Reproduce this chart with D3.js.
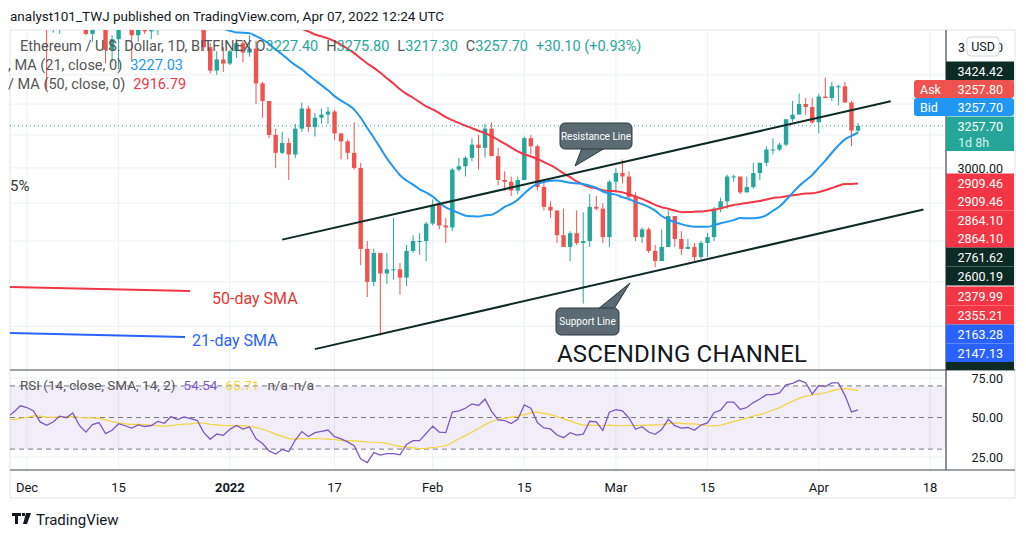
<!DOCTYPE html>
<html><head><meta charset="utf-8">
<script src="https://cdn.jsdelivr.net/npm/d3@7"></script>
<style>body{margin:0;background:#fff}svg{display:block;font-family:Roboto,"Open Sans",sans-serif}</style>
</head><body><svg id="c" width="1026" height="539"></svg>
<script>
// ---- data ----
const startDate = "2021-11-01";
const closes = [4320,4590,4600,4530,4480,4520,4610,4810,4730,4630,4720,4660,4650,4620,4570,4210,4290,3990,4300,4430,4270,4090,4340,4270,4520,4040,4100,4290,4440,4630,
4590,4510,4220,4120,4200,4350,4310,4430,4110,3900,4080,4130,3780,3860,4020,3960,3890,3960,3920,3940,4020,3980,4110,4050,4100,4070,4040,3800,3630,3710,3680,
3770,3830,3760,3790,3540,3420,3200,3090,3150,3080,3240,3370,3250,3310,3330,3350,3210,3160,3090,3000,2560,2400,2540,2440,2460,2460,2420,2550,2600,2600,2690,
2790,2680,2670,2990,3010,3060,3140,3120,3240,3070,2930,2920,2870,2930,3180,3130,2890,2780,2760,2630,2570,2640,2590,2600,2780,2770,2620,2920,
2970,2950,2835,2620,2660,2550,2500,2570,2730,2610,2560,2570,2520,2590,2620,2770,2810,2950,2950,2860,2890,2970,3030,3110,3110,3140,3300,3330,3400,3380,3280,
3450,3440,3520,3520,3410,3227.4,3257.7];
const candleStart = 28;
const highs = [4460,4770,
4780,4610,4650,4240,4250,4360,4420,4450,4460,4240,4090,4160,4130,3890,4090,4110,3990,3990,4040,3960,4040,4040,4140,4140,4120,4120,4130,4040,3830,3770,3800,
3780,3860,3850,3890,3850,3550,3420,3240,3220,3180,3270,3410,3390,3340,3370,3380,3360,3210,3170,3280,3030,2600,2560,2470,2540,2720,2490,2580,2630,2640,2700,
2820,2800,2720,3000,3060,3070,3180,3200,3270,3280,3120,2980,2950,2950,3190,3200,3140,2920,2810,2760,2770,2650,2760,2750,2850,2840,2800,2930,
3000,3050,2980,2860,2670,2670,2580,2660,2760,2730,2650,2610,2590,2600,2640,2780,2830,2960,2960,2940,2950,3030,3030,3130,3180,3150,3300,3420,3470,3440,3440,
3470,3580,3550,3530,3550,3420,3275.8];
const lows = [4280,4380,
4530,4430,4140,3500,3910,3900,4270,4200,4100,3890,3840,4020,3680,3690,3640,3960,3700,3840,3900,3860,3890,3960,3950,4030,4020,4010,4020,3770,3610,3600,3620,
3670,3720,3690,3730,3400,3310,3180,3000,3080,2930,3060,3220,3220,3190,3270,3270,3170,3050,3050,2990,2480,2330,2380,2160,2390,2410,2340,2380,2540,2530,2500,
2680,2660,2590,2650,2980,2950,3040,2990,3060,3070,2900,2870,2840,2850,2930,3080,2870,2760,2720,2590,2570,2500,2580,2300,2570,2760,2590,2570,
2860,2910,2810,2600,2590,2540,2470,2520,2570,2570,2530,2560,2500,2510,2520,2600,2750,2770,2920,2850,2860,2880,2930,3010,3080,3100,3130,3280,3340,3330,3270,
3210,3440,3420,3390,3410,3130,3217.3];
const xTicks = [["2021-12-01","Dec"],["2021-12-15","15"],["2022-01-01","2022"],["2022-01-17","17"],["2022-02-01","Feb"],["2022-02-15","15"],["2022-03-01","Mar"],["2022-03-15","15"],["2022-04-01","Apr"],["2022-04-18","18"]];
const resistance = [["2022-01-09",2607],["2022-04-12",3418]];
const support = [["2022-01-14",2104],["2022-04-17",2765]];
const axisLabels = [["3424.42",71,"#0b2b24"],["3257.70",126,"#26a69a"],["3000.00",168,null],["2909.46",183,"#f23645"],["2909.46",201,"#f23645"],["2864.10",220,"#f23645"],["2864.10",238,"#f23645"],["2761.62",257,"#0b2b24"],["2600.19",276,"#0b2b24"],["2379.99",296,"#f23645"],["2355.21",315,"#f23645"],["2163.28",334,"#2962ff"],["2147.13",353,"#2962ff"]];
const rsiTicks = [75,50,25];

// ---- setup ----
const svg = d3.select("#c");
const parse = d3.utcParse("%Y-%m-%d");
const d0 = parse(startDate);
const dates = closes.map((_,i)=>d3.utcDay.offset(d0,i));
const x = d3.scaleUtc().domain([parse("2021-12-01"),parse("2022-04-18")]).range([27,930]);
const y = d3.scaleLog().domain([2000,4000]).range([375,21]);
const yr = d3.scaleLinear().domain([25,75]).range([457,378]);
const L=10,R=946,T=30,MB=370,RB=470;

svg.append("rect").attr("width",1026).attr("height",539).attr("fill","#fff");
svg.append("text").attr("x",10).attr("y",21).attr("font-size",13.5).attr("fill","#131722").text("analyst101_TWJ published on TradingView.com, Apr 07, 2022 12:24 UTC");
svg.append("rect").attr("x",L).attr("y",T).attr("width",1015-L).attr("height",498-T).attr("fill","none").attr("stroke","#e0e3eb");
svg.append("defs").html(`<clipPath id="mc"><rect x="${L}" y="${T}" width="${R-L}" height="${MB-T}"/></clipPath><clipPath id="rc"><rect x="${L}" y="${MB}" width="${R-L}" height="${RB-MB}"/></clipPath>`);
const g = svg.append("g");
xTicks.forEach(t=>{g.append("line").attr("x1",x(parse(t[0]))).attr("x2",x(parse(t[0]))).attr("y1",T).attr("y2",RB).attr("stroke","#eef0f4");});
[2200,2400,2600,2800,3000,3200,3400,3600].forEach(p=>g.append("line").attr("x1",L).attr("x2",R).attr("y1",y(p)).attr("y2",y(p)).attr("stroke","#eef0f4"));
[75,25].forEach(p=>g.append("line").attr("x1",L).attr("x2",R).attr("y1",yr(p)).attr("y2",yr(p)).attr("stroke","#eef0f4"));

const m = svg.append("g").attr("clip-path","url(#mc)");
const cw=4.4;
for(let i=candleStart;i<closes.length;i++){
  const k=i-candleStart, o=closes[i-1], c=closes[i], h=highs[k], l=lows[k];
  const col = c>=o?"#26a69a":"#ef5350", cx=x(dates[i]);
  m.append("line").attr("x1",cx).attr("x2",cx).attr("y1",y(h)).attr("y2",y(l)).attr("stroke",col);
  m.append("rect").attr("x",cx-cw/2).attr("width",cw).attr("y",y(Math.max(o,c))).attr("height",Math.max(1,Math.abs(y(o)-y(c)))).attr("fill",col);
}
function sma(arr,n){return arr.map((_,i)=>i<n-1?null:d3.mean(arr.slice(i-n+1,i+1)));}
const ma21=sma(closes,21), ma50p=closes.map((_,i)=>d3.mean(closes.slice(Math.max(0,i-49),i+1)));
const line=d3.line().defined(d=>d[1]!=null).x(d=>x(d[0])).y(d=>y(d[1])).curve(d3.curveMonotoneX);
m.append("path").attr("d",line(dates.map((d,i)=>[d,ma50p[i]]).filter((_,i)=>i>=40))).attr("fill","none").attr("stroke","#f23645").attr("stroke-width",2);
m.append("path").attr("d",line(dates.map((d,i)=>[d,ma21[i]]))).attr("fill","none").attr("stroke","#2196f3").attr("stroke-width",2);
m.append("line").attr("x1",L).attr("x2",R).attr("y1",y(3257.7)).attr("y2",y(3257.7)).attr("stroke","#26a69a").attr("stroke-dasharray","1,3");
[resistance,support].forEach(s=>m.append("line").attr("x1",x(parse(s[0][0]))).attr("y1",y(s[0][1])).attr("x2",x(parse(s[1][0]))).attr("y2",y(s[1][1])).attr("stroke","#0d2b24").attr("stroke-width",2));
m.append("line").attr("x1",10).attr("y1",287).attr("x2",190).attr("y2",291).attr("stroke","#f23645").attr("stroke-width",2);
m.append("line").attr("x1",10).attr("y1",333).attr("x2",185).attr("y2",337).attr("stroke","#2962ff").attr("stroke-width",2);
m.append("text").attr("x",212).attr("y",304).attr("font-size",16).attr("fill","#e53935").text("50-day SMA");
m.append("text").attr("x",192).attr("y",346).attr("font-size",16).attr("fill","#2962ff").text("21-day SMA");
m.append("text").attr("x",557).attr("y",362).attr("font-size",24).attr("fill","#131722").attr("textLength",250).text("ASCENDING CHANNEL");
function callout(bx,by,bw,bh,px,py,ax1,ax2,ay,txt){
  m.append("path").attr("d",`M${ax1},${ay}L${px},${py}L${ax2},${ay}Z`).attr("fill","#5c6b73").attr("stroke","#2a3a40");
  m.append("rect").attr("x",bx).attr("y",by).attr("width",bw).attr("height",bh).attr("rx",5).attr("fill","#5c6b73").attr("stroke","#2a3a40");
  m.append("text").attr("x",bx+bw/2).attr("y",by+bh/2+3.5).attr("text-anchor","middle").attr("font-size",10).attr("fill","#fff").text(txt);
}
callout(560,123,72,26,575,166,582,605,148,"Resistance Line");
callout(556,308,63,27,630,283,598,614,309,"Support Line");
// legend
const lg=svg.append("g").attr("font-size",14.5);
const t1=lg.append("text").attr("x",20).attr("y",51).attr("fill","#555");
t1.append("tspan").text("Ethereum / U.S. Dollar, 1D, BITFINEX  O");t1.append("tspan").attr("fill","#26a69a").text("3227.40");
t1.append("tspan").attr("dx",8).text("H");t1.append("tspan").attr("fill","#26a69a").text("3275.80");
t1.append("tspan").attr("dx",8).text("L");t1.append("tspan").attr("fill","#26a69a").text("3217.30");
t1.append("tspan").attr("dx",8).text("C");t1.append("tspan").attr("fill","#26a69a").text("3257.70");
t1.append("tspan").attr("dx",8).attr("fill","#26a69a").text("+30.10 (+0.93%)");
const t2=lg.append("text").attr("x",8).attr("y",70).attr("fill","#555");t2.append("tspan").text(",  MA (21, close, 0)");t2.append("tspan").attr("dx",8).attr("fill","#2196f3").text("3227.03");
const t3=lg.append("text").attr("x",8).attr("y",89).attr("fill","#555");t3.append("tspan").text("/  MA (50, close, 0)");t3.append("tspan").attr("dx",8).attr("fill","#f23645").text("2916.79");
svg.append("text").attr("x",10).attr("y",191).attr("font-size",15).attr("fill","#333").text("5%");

// RSI
const r = svg.append("g").attr("clip-path","url(#rc)");
r.append("rect").attr("x",L).attr("width",R-L).attr("y",yr(70)).attr("height",yr(30)-yr(70)).attr("fill","#7e57c2").attr("opacity",0.1);
[70,50,30].forEach(v=>r.append("line").attr("x1",L).attr("x2",R).attr("y1",yr(v)).attr("y2",yr(v)).attr("stroke","#787b86").attr("stroke-dasharray","5,4"));
const rsi=[];let ag=0,al=0;
for(let i=1;i<closes.length;i++){const ch=closes[i]-closes[i-1],gn=Math.max(ch,0),ls=Math.max(-ch,0);
  if(i<=14){ag+=gn/14;al+=ls/14;rsi[i]=i==14?100-100/(1+ag/al):null;}
  else{ag=(ag*13+gn)/14;al=(al*13+ls)/14;rsi[i]=100-100/(1+ag/al);}}
rsi[0]=null;
const rsiS=rsi.map((_,i)=>i<27?null:d3.mean(rsi.slice(i-13,i+1)));
const rl=d3.line().defined(d=>d[1]!=null).x(d=>x(d[0])).y(d=>yr(d[1]));
r.append("path").attr("d",rl(dates.map((d,i)=>[d,rsiS[i]]))).attr("fill","none").attr("stroke","#f5d33b").attr("stroke-width",1.2);
r.append("path").attr("d",rl(dates.map((d,i)=>[d,rsi[i]]))).attr("fill","none").attr("stroke","#7e57c2").attr("stroke-width",1.3);
const t4=svg.append("text").attr("x",20).attr("y",390).attr("font-size",13.5).attr("fill","#555");
t4.append("tspan").text("RSI (14, close, SMA, 14, 2)");t4.append("tspan").attr("dx",8).attr("fill","#7e57c2").text("54.54");t4.append("tspan").attr("dx",8).attr("fill","#f5d33b").text("65.71");t4.append("tspan").attr("dx",8).text("n/a");t4.append("tspan").attr("dx",6).text("n/a");

svg.append("line").attr("x1",L).attr("x2",1015).attr("y1",MB).attr("y2",MB).attr("stroke","#434651").attr("stroke-width",1.2);
svg.append("line").attr("x1",L).attr("x2",1015).attr("y1",RB).attr("y2",RB).attr("stroke","#434651").attr("stroke-width",1.2);
svg.append("line").attr("x1",R).attr("x2",R).attr("y1",T).attr("y2",RB).attr("stroke","#434651").attr("stroke-width",1.2);
xTicks.forEach(t=>svg.append("text").attr("x",x(parse(t[0]))).attr("y",492).attr("text-anchor","middle").attr("font-size",13).attr("font-weight",t[1]=="2022"?"bold":"normal").attr("fill","#131722").text(t[1]));
const ax=svg.append("g").attr("font-size",12.5);
ax.append("text").attr("x",958).attr("y",52).attr("fill","#131722").text("3");
ax.append("text").attr("x",1003).attr("y",52).attr("text-anchor","end").attr("fill","#131722").text("0");
ax.append("rect").attr("x",967).attr("y",37).attr("width",32).attr("height",19).attr("rx",4).attr("fill","#fff").attr("stroke","#d1d4dc");
ax.append("text").attr("x",983).attr("y",51).attr("text-anchor","middle").attr("fill","#131722").text("USD");
axisLabels.forEach(a=>{
  if(a[2]){ax.append("rect").attr("x",R).attr("y",a[1]-9.5).attr("width",68).attr("height",19).attr("fill",a[2]);}
  ax.append("text").attr("x",1003).attr("y",a[1]+4.5).attr("text-anchor","end").attr("fill",a[2]?"#fff":"#131722").text(a[0]);
});
ax.append("rect").attr("x",R).attr("y",133).attr("width",68).attr("height",18).attr("fill","#26a69a");
ax.append("text").attr("x",958).attr("y",147).attr("fill","#d6f0ec").text("1d 8h");
ax.append("rect").attr("x",R).attr("y",362).attr("width",68).attr("height",8).attr("fill","#0b2b24");
[["Ask","3257.80",89,"#ef5350"],["Bid","3257.70",107,"#2196f3"]].forEach(a=>{
  ax.append("rect").attr("x",914).attr("y",a[2]-9).attr("width",100).attr("height",18).attr("rx",3).attr("fill",a[3]);
  ax.append("text").attr("x",920).attr("y",a[2]+4.5).attr("fill","#fff").text(a[0]);
  ax.append("text").attr("x",1003).attr("y",a[2]+4.5).attr("text-anchor","end").attr("fill","#fff").text(a[1]);
});
rsiTicks.forEach(v=>ax.append("text").attr("x",1003).attr("y",yr(v)+4.5).attr("text-anchor","end").attr("fill","#131722").text(v.toFixed(2)));
const f=svg.append("g").attr("transform","translate(12,513)");
f.append("path").attr("d","M0,0H9V3H6V11H3V3H0Z M10,0H13V3H10Z M14,0H19L15,11H11Z").attr("fill","#131722");
f.append("text").attr("x",24).attr("y",12).attr("font-size",15).attr("fill","#131722").text("TradingView");
</script></body></html>
